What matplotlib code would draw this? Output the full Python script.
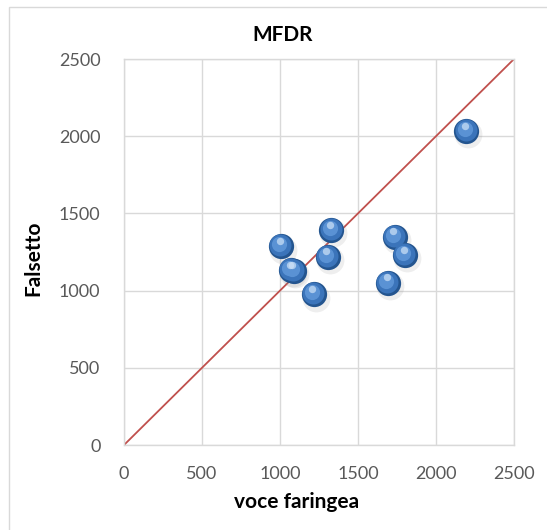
import numpy as np
import matplotlib.pyplot as plt
from matplotlib.patches import Rectangle

# Dati
voce_faringea = [2195, 1006, 1330, 1306, 1070, 1087, 1216, 1735, 1800, 1692]
falsetto = [2034, 1288, 1392, 1219, 1133, 1128, 977, 1348, 1230, 1050]
diagonale = [0, 2500]
ticks = [0, 500, 1000, 1500, 2000, 2500]

plt.rcParams["font.family"] = ["Lato", "DejaVu Sans"]

W, H = 547, 530
fig = plt.figure(figsize=(W / 100, H / 100), dpi=100)

# bordo esterno del grafico
fig.patches.append(Rectangle((9 / W, -0.05), 1.0, (H - 7) / H + 0.05,
                             transform=fig.transFigure, fill=False,
                             edgecolor="#d9d9d9", linewidth=1.0))

ax = fig.add_axes([124 / W, (H - 445) / H, 390 / W, 386 / H])
ax.set_xlim(0, 2500)
ax.set_ylim(0, 2500)
ax.set_xticks(ticks)
ax.set_yticks(ticks)
ax.grid(True, color="#d9d9d9", linewidth=1.0)
ax.set_axisbelow(True)
for s in ax.spines.values():
    s.set_color("#d9d9d9")
    s.set_linewidth(1.0)
ax.tick_params(length=0, labelsize=13, labelcolor="#595959")
ax.tick_params(axis="y", pad=17)
ax.tick_params(axis="x", pad=15)

# retta y = x
ax.plot(diagonale, diagonale, color="#c0504d", linewidth=1.3, zorder=2)

# punti "sferici": ombra, base, luce
ax.scatter(np.array(voce_faringea) + 12, np.array(falsetto) - 22, s=400,
           color="#7f7f7f", alpha=0.13, linewidths=0, zorder=3)
ax.scatter(voce_faringea, falsetto, s=330, color="#24558f",
           linewidths=0, zorder=4)
ax.scatter(np.array(voce_faringea) - 5, np.array(falsetto) + 5, s=250,
           color="#3b74ba", linewidths=0, zorder=5)
ax.scatter(np.array(voce_faringea) - 10, np.array(falsetto) + 12, s=120,
           color="#5a92d4", linewidths=0, zorder=6)
ax.scatter(np.array(voce_faringea) - 8, np.array(falsetto) + 35, s=28,
           color="#cfe2f7", alpha=0.7, linewidths=0, zorder=7)

fig.text(283 / W, (H - 35) / H, "MFDR", ha="center", va="center",
         fontsize=15, fontweight="bold")
fig.text(297 / W, (H - 502) / H, "voce faringea", ha="center", va="center",
         fontsize=15, fontweight="bold")
fig.text(33 / W, (H - 258) / H, "Falsetto", ha="center", va="center",
         rotation=90, fontsize=15, fontweight="bold")

fig.savefig("out.png", dpi=100)
